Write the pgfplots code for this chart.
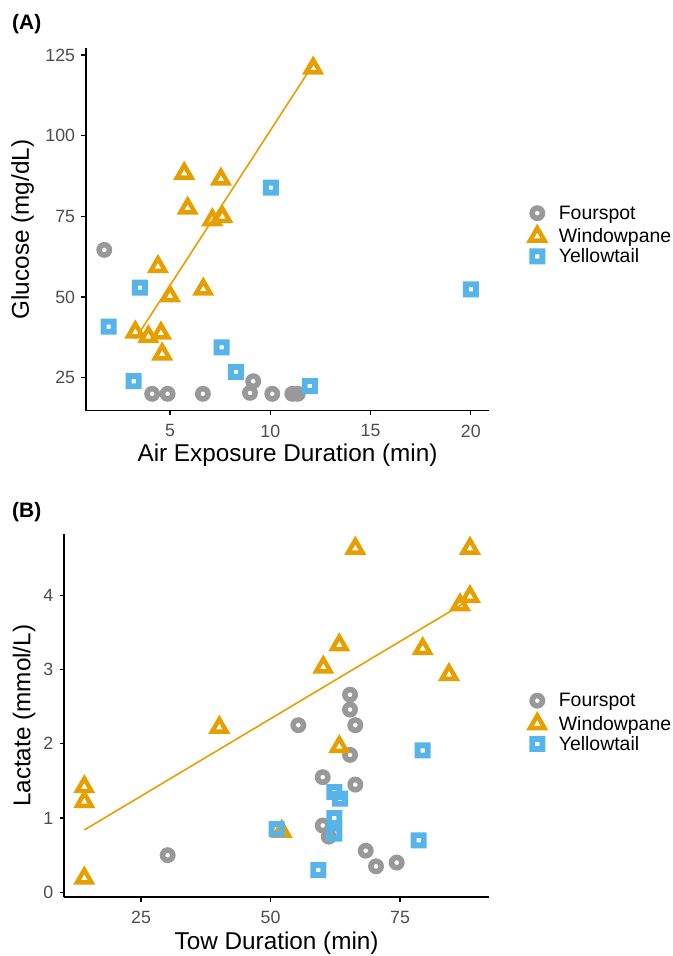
\documentclass[border=0pt]{standalone}
\usepackage{pgfplots}
\pgfplotsset{compat=1.18}
\usepackage{fontspec}
\setmainfont{Liberation Sans}
\definecolor{cfour}{HTML}{999999}
\definecolor{cwin}{HTML}{E69F00}
\definecolor{cyel}{HTML}{56B4E9}
\definecolor{tickgray}{HTML}{4D4D4D}

\pgfdeclareplotmark{ringo}{%
  \pgfpathcircle{\pgfpointorigin}{\pgfplotmarksize}%
  \pgfpathcircle{\pgfpointorigin}{0.3\pgfplotmarksize}%
  \pgfseteorule\pgfusepathqfill}
\pgfdeclareplotmark{ringtri}{%
  \pgfpathmoveto{\pgfqpoint{0pt}{\pgfplotmarksize}}%
  \pgfpathlineto{\pgfqpoint{-.8660254\pgfplotmarksize}{-.5\pgfplotmarksize}}%
  \pgfpathlineto{\pgfqpoint{.8660254\pgfplotmarksize}{-.5\pgfplotmarksize}}%
  \pgfpathclose
  \pgfpathmoveto{\pgfqpoint{0pt}{.3\pgfplotmarksize}}%
  \pgfpathlineto{\pgfqpoint{-.2598076\pgfplotmarksize}{-.15\pgfplotmarksize}}%
  \pgfpathlineto{\pgfqpoint{.2598076\pgfplotmarksize}{-.15\pgfplotmarksize}}%
  \pgfpathclose
  \pgfseteorule\pgfusepathqfill}
\pgfdeclareplotmark{ringsq}{%
  \pgfpathrectanglecorners{\pgfqpoint{-\pgfplotmarksize}{-\pgfplotmarksize}}{\pgfqpoint{\pgfplotmarksize}{\pgfplotmarksize}}%
  \pgfpathrectanglecorners{\pgfqpoint{-.26\pgfplotmarksize}{-.26\pgfplotmarksize}}{\pgfqpoint{.26\pgfplotmarksize}{.26\pgfplotmarksize}}%
  \pgfseteorule\pgfusepathqfill}

\pgfplotstableread{
x y
1.72 64.6
4.11 20
4.88 20
6.64 20
9.15 23.9
8.99 20.3
10.1 20
11.1 20
11.37 20
}\fourA
\pgfplotstableread{
x y
12.14 120.9
5.71 88.3
7.54 86.5
5.88 77.5
7.11 73.9
7.61 74.9
4.40 59.4
6.66 52.4
5.00 50.3
3.27 39.1
3.92 37.7
4.55 38.8
4.61 32.3
}\winA
\pgfplotstableread{
x y
10.03 83.9
3.50 52.9
20.01 52.4
1.94 40.8
7.58 34.4
8.29 26.8
3.19 23.9
11.97 22.4
}\yelA
\pgfplotstableread{
x y
66.37 4.63
88.51 4.63
88.51 3.98
86.58 3.87
63.28 3.33
60.19 3.03
79.38 3.28
84.46 2.93
40.12 2.22
63.28 1.96
14.05 1.42
14.05 1.22
52.16 0.82
14.05 0.19
}\winB
\pgfplotstableread{
x y
65.35 2.66
65.35 2.46
66.37 2.25
55.37 2.25
65.35 1.85
60.08 1.55
66.37 1.45
60.08 0.90
61.24 0.75
30.15 0.50
68.38 0.56
70.37 0.35
74.36 0.40
}\fourB
\pgfplotstableread{
x y
79.38 1.91
62.32 1.35
63.42 1.26
62.32 1.00
62.32 0.79
51.20 0.85
78.61 0.70
59.23 0.30
}\yelB

\pgfplotsset{
  mystyle/.style={
    scale only axis,
    axis x line*=bottom, axis y line*=left,
    axis line style={line width=1.6bp, black},
    tick align=outside,
    major tick length=4.5bp,
    tick style={line width=1.2bp, black},
    xtick pos=left, ytick pos=left,
    /pgf/number format/assume math mode=true,
    tick label style={font=\fontsize{17.8}{20}\selectfont, text=tickgray},
    xticklabel style={yshift=-6bp},
    yticklabel style={xshift=-3bp},
    label style={font=\fontsize{24.4}{28}\selectfont},
    legend style={draw=none, fill=none, font=\fontsize{19.5}{21.5}\selectfont,
      anchor=west, inner sep=0bp, row sep=1.5bp, column sep=9bp, nodes={inner sep=1.5bp}},
    legend cell align=left,
  },
  fourst/.style={only marks, mark=ringo, color=cfour, mark size=8bp},
  winst/.style={only marks, mark=ringtri, color=cwin, mark size=12.8bp},
  yelst/.style={only marks, mark=ringsq, color=cyel, mark size=8bp},
}

\begin{document}
\begin{tikzpicture}
\path[use as bounding box] (0,0) rectangle (673bp,956bp);

\node[anchor=west, inner sep=0pt, font=\fontsize{21}{24}\selectfont\bfseries] at (12bp,932bp) {(A)};
\node[anchor=west, inner sep=0pt, font=\fontsize{21}{24}\selectfont\bfseries] at (12bp,443.5bp) {(B)};

\begin{axis}[mystyle,
  at={(86bp,545.3bp)}, anchor=south west,
  width=403bp, height=362.4bp,
  xmin=0.81, xmax=20.91, ymin=14.77, ymax=127.08,
  xtick={5,10,15,20}, ytick={25,50,75,100,125},
  xlabel={Air Exposure Duration (min)},
  ylabel={Glucose (mg/dL)},
  xlabel style={at={(axis description cs:0.5,-0.1222)}, anchor=center},
  ylabel style={at={(axis description cs:-0.1576,0.5)}, anchor=center},
  legend style={at={(axis description cs:1.0918,0.4848)}},
]
\addplot[color=cwin, line width=1.6bp, forget plot] coordinates {(3.27,37.0) (12.14,122.1)};
\addplot[fourst] table {\fourA};
\addplot[winst] table {\winA};
\addplot[yelst] table {\yelA};
\legend{Fourspot, Windowpane, Yellowtail}
\end{axis}

\begin{axis}[mystyle,
  at={(64.3bp,58.7bp)}, anchor=south west,
  width=424.7bp, height=363bp,
  xmin=10.19, xmax=92.18, ymin=-0.067, ymax=4.82,
  xtick={25,50,75}, ytick={0,1,2,3,4},
  xlabel={Tow Duration (min)},
  ylabel={Lactate (mmol/L)},
  xlabel style={at={(axis description cs:0.5,-0.1259)}, anchor=center},
  ylabel style={at={(axis description cs:-0.0949,0.5)}, anchor=center},
  legend style={at={(axis description cs:1.0871,0.4815)}},
]
\addplot[color=cwin, line width=1.6bp, forget plot] coordinates {(14.05,0.839) (88.5,3.94)};
\addplot[fourst] table {\fourB};
\addplot[winst] table {\winB};
\addplot[yelst] table {\yelB};
\legend{Fourspot, Windowpane, Yellowtail}
\end{axis}
\end{tikzpicture}
\end{document}
